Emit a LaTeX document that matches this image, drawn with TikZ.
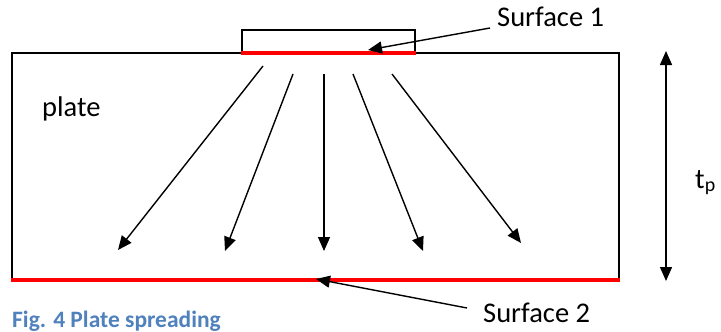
\documentclass[tikz,border=0pt]{standalone}
\usepackage{fontspec}
\setmainfont{Carlito}
\usetikzlibrary{arrows.meta}
\definecolor{capblue}{RGB}{79,129,189}
\tikzset{
  tip/.tip={Triangle[length=14pt,width=12pt]},
  fanarrow/.style={line width=1.4pt,-tip},
  redline/.style={red,line width=4pt},
  lbl/.style={font=\fontsize{28.5}{32}\selectfont,inner sep=0pt,anchor=base west},
  box/.style={draw,line width=1.5pt,inner sep=0pt,anchor=north west}
}
\begin{document}
\begin{tikzpicture}[x=1pt,y=-1pt]
\useasboundingbox (0,0) rectangle (721,332);
% plate and pad
\node[box,minimum width=607pt,minimum height=226pt] (plate) at (11,52) {};
\node[box,minimum width=173pt,minimum height=22pt] (pad) at (241,29) {};
% red surfaces
\draw[redline] (pad.south west) -- (pad.south east);
\draw[redline] (plate.south west) -- (plate.south east);
% fan arrows
\coordinate (s1) at (263,66);  \coordinate (e1) at (118,250);
\coordinate (s2) at (293,74);  \coordinate (e2) at (225,251);
\coordinate (s3) at (324,74);  \coordinate (e3) at (324,251);
\coordinate (s4) at (353,74);  \coordinate (e4) at (423,251);
\coordinate (s5) at (392,74);  \coordinate (e5) at (521,243);
\foreach \i in {1,...,5} \draw[fanarrow] (s\i) -- (e\i);
% labels
\node[lbl] (lab1) at (497,26) {Surface 1};
\node[lbl] (lab2) at (483,322) {Surface 2};
\node[lbl] (plab) at (42,116) {plate};
\node[lbl] (tlab) at (695,188) {t\textsubscript{p}};
\node[inner sep=0pt,anchor=base west,font=\fontsize{23.5}{26}\selectfont\bfseries,text=capblue] (cap) at (12,327) {Fig. 4 Plate spreading};
% leader arrows
\coordinate (l1) at (490,28);
\coordinate (l1t) at (368,50);
\draw[fanarrow] (l1) -- (l1t);
\coordinate (l2) at (467,308);
\coordinate (l2t) at (316,279);
\draw[fanarrow] (l2) -- (l2t);
% thickness arrow
\coordinate (ta) at (666,51);
\coordinate (tb) at (666,281);
\draw[line width=1.4pt,tip-tip] (ta) -- (tb);
\end{tikzpicture}
\end{document}
